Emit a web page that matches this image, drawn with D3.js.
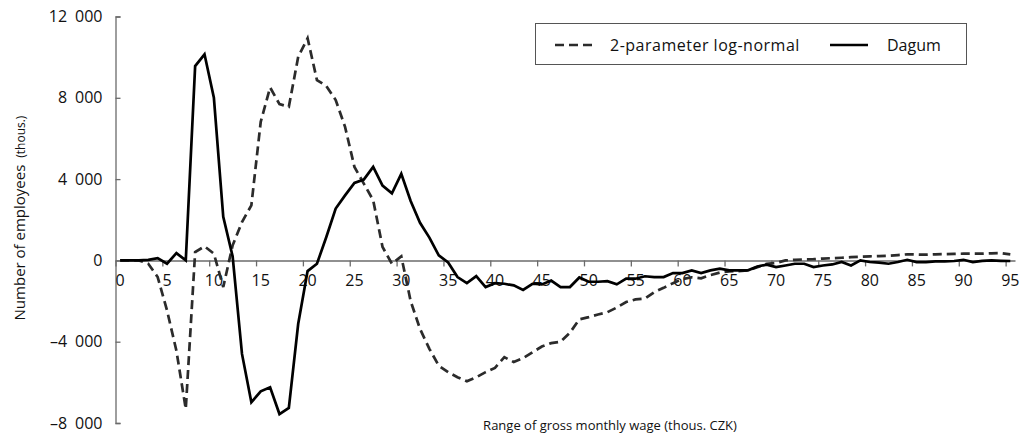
<!DOCTYPE html>
<html>
<head>
<meta charset="utf-8">
<script src="https://cdn.jsdelivr.net/npm/d3@7"></script>
<style>
  body { margin: 0; background: #fff; }
  svg { display: block; font-family: "Open Sans", sans-serif; }
</style>
</head>
<body>
<svg id="chart" width="1029" height="438"></svg>
<script>
// ── Data ───────────────────────────────────────────────────
// wage bands 0..95 thous. CZK, difference in number of employees (thous.)
const wageBands = d3.range(0, 96);

const logNormal = [
  0, 0, 0, -165, -820, -2460, -4440, -7310, 410, 690,
  330, -1310, 740, 1890, 2710, 6820, 8510, 7690, 7560, 10020,
  10930, 8870, 8580, 7890, 6570, 4600, 3780, 2960, 660, -165,
  200, -2000, -3370, -4350, -5180, -5500, -5750, -5950, -5750, -5500,
  -5290, -4760, -5000, -4810, -4520, -4240, -4070, -4000, -3560, -2900,
  -2790, -2660, -2550, -2320, -2050, -1920, -1880, -1560, -1350, -1120,
  -920, -830, -880, -720, -600, -540, -525, -490, -330, -165,
  -130, 0, 30, 50, 60, 90, 110, 130, 160, 180,
  200, 215, 230, 260, 300, 290, 280, 300, 310, 320,
  330, 330, 330, 350, 360, 300
];

const dagum = [
  0, 0, 0, 30, 115, -165, 360, 0, 9560, 10140,
  8000, 2140, 200, -4600, -6980, -6440, -6240, -7560, -7260, -3120,
  -525, -165, 1150, 2550, 3200, 3810, 3980, 4600, 3680, 3300,
  4260, 2920, 1850, 1120, 250, -100, -820, -1120, -770, -1310,
  -1120, -1150, -1230, -1450, -1150, -1180, -990, -1310, -1310, -840,
  -1050, -1050, -1020, -1180, -900, -900, -780, -820, -820, -625,
  -625, -490, -625, -490, -410, -490, -490, -490, -300, -210,
  -330, -250, -165, -165, -330, -250, -200, -80, -250, 0,
  -80, -110, -165, -80, 30, -80, -80, -50, -50, -30,
  30, -80, -20, 0, -20, -30
];

const yTicks = [-8000, -4000, 0, 4000, 8000, 12000];
const xTickLabels = d3.range(0, 96, 5);
const seriesNames = ['2-parameter log-normal', 'Dagum'];

// ── Scales ─────────────────────────────────────────────────
const svg = d3.select('#chart');
const x = d3.scaleBand().domain(wageBands).range([115.5, 1015]).paddingInner(0).paddingOuter(0);
const xEdge = d3.scaleLinear().domain([0, 96]).range([115.5, 1015]);
const y = d3.scaleLinear().domain([-8000, 12000]).range([423, 16.5]);

const fmt = v => (v < 0 ? '\u2013' : '') + d3.format(',')(Math.abs(v)).replace(/,/g, '\u2002');
const axisColor = '#6b6b6b';

// ── Y axis ─────────────────────────────────────────────────
const yAxis = svg.append('g')
  .attr('transform', 'translate(115.5,0)')
  .call(d3.axisLeft(y).tickValues(yTicks).tickSizeInner(-5).tickSizeOuter(-5).tickPadding(13)
    .tickFormat(d => d === 0 ? '0' : fmt(d)));
yAxis.select('.domain').attr('stroke', axisColor).attr('stroke-width', 1.3);
yAxis.selectAll('.tick line').attr('stroke', axisColor).attr('stroke-width', 1.3);
yAxis.selectAll('.tick text').attr('font-size', 16).attr('fill', '#111')
  .attr('font-family', '"Open Sans", sans-serif');

// ── X axis (ticks on band edges, labels on band centres) ───
const y0 = y(0);
const xTickAxis = svg.append('g')
  .attr('transform', `translate(0,${y0})`)
  .call(d3.axisBottom(xEdge).tickValues(xTickLabels).tickSizeInner(6).tickSizeOuter(0).tickFormat(''));
xTickAxis.select('.domain').attr('stroke', axisColor).attr('stroke-width', 1.5);
xTickAxis.selectAll('.tick line').attr('stroke', axisColor).attr('stroke-width', 1.3);

const xLabelAxis = svg.append('g')
  .attr('transform', `translate(0,${y0})`)
  .call(d3.axisBottom(x).tickValues(xTickLabels).tickSize(0).tickPadding(14));
xLabelAxis.select('.domain').remove();
xLabelAxis.selectAll('.tick text').attr('font-size', 16).attr('fill', '#111')
  .attr('font-family', '"Open Sans", sans-serif');

// ── Lines ──────────────────────────────────────────────────
const line = d3.line()
  .x((d, i) => x(wageBands[i]) + x.bandwidth() / 2)
  .y(d => y(d));

svg.append('path')
  .datum(logNormal)
  .attr('d', line)
  .attr('fill', 'none')
  .attr('stroke', '#2b2b2b')
  .attr('stroke-width', 2.7)
  .attr('stroke-dasharray', '9,5');

svg.append('path')
  .datum(dagum)
  .attr('d', line)
  .attr('fill', 'none')
  .attr('stroke', '#000')
  .attr('stroke-width', 2.7)
  .attr('stroke-linejoin', 'miter');

// ── Axis titles ────────────────────────────────────────────
svg.append('text')
  .attr('x', 610)
  .attr('y', 430)
  .attr('text-anchor', 'middle')
  .attr('font-size', 13)
  .attr('fill', '#111')
  .text('Range of gross monthly wage (thous. CZK)');

const yTitle = svg.append('text')
  .attr('transform', 'translate(25,218) rotate(-90)')
  .attr('text-anchor', 'middle')
  .attr('font-size', 15)
  .attr('fill', '#111');
yTitle.append('tspan').text('Number of employees ');
yTitle.append('tspan').attr('font-size', 12).attr('dx', 3).text('(thous.)');

// ── Legend ─────────────────────────────────────────────────
const legend = svg.append('g');
legend.append('rect')
  .attr('x', 535.5).attr('y', 23.5)
  .attr('width', 431).attr('height', 41)
  .attr('fill', '#fff')
  .attr('stroke', '#555')
  .attr('stroke-width', 1);

legend.append('line')
  .attr('x1', 555).attr('x2', 592).attr('y1', 45).attr('y2', 45)
  .attr('stroke', '#2b2b2b').attr('stroke-width', 2.7).attr('stroke-dasharray', '9,5');
legend.append('text')
  .attr('x', 610).attr('y', 50.5)
  .attr('font-size', 16).attr('fill', '#111')
  .attr('letter-spacing', 0.5)
  .text(seriesNames[0]);

legend.append('line')
  .attr('x1', 830).attr('x2', 868).attr('y1', 45).attr('y2', 45)
  .attr('stroke', '#000').attr('stroke-width', 2.7);
legend.append('text')
  .attr('x', 887).attr('y', 50.5)
  .attr('font-size', 16).attr('fill', '#111')
  .text(seriesNames[1]);
</script>
</body>
</html>
